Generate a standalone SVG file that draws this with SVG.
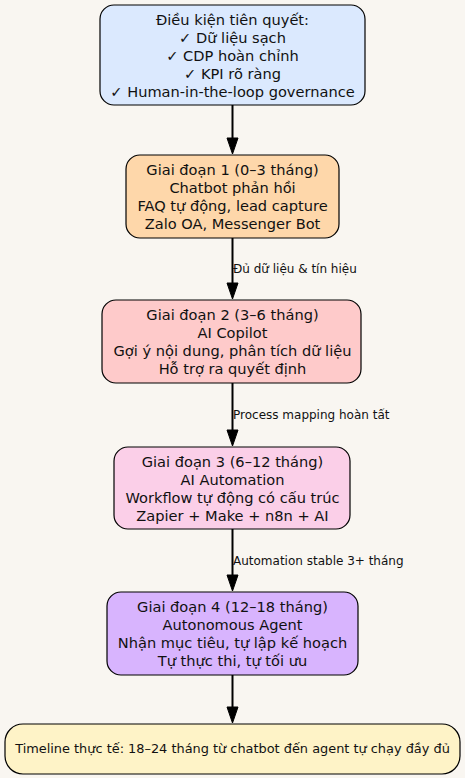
<svg xmlns="http://www.w3.org/2000/svg" width="465" height="778" viewBox="0 0 465 778">
<style>
.n{stroke:#000;stroke-width:1.2}
.t{font-family:"DejaVu Sans",sans-serif;font-size:14.6px;fill:#111;text-anchor:middle}
.l{font-family:"DejaVu Sans",sans-serif;font-size:12px;fill:#111}
.e{stroke:#000;stroke-width:2;fill:none}
.a{fill:#000;stroke:#000;stroke-width:1}
</style>
<rect width="465" height="778" fill="#f9f6f1"/>
<g id="n1"><rect class="n" x="100" y="5" width="265" height="100" rx="14" fill="#dbe9fe"/>
<text class="t"><tspan x="232.5" y="24.5">Điều kiện tiên quyết:</tspan><tspan x="232.5" y="42.5">✓ Dữ liệu sạch</tspan><tspan x="232.5" y="60.5">✓ CDP hoàn chỉnh</tspan><tspan x="232.5" y="78.5">✓ KPI rõ ràng</tspan><tspan x="232.5" y="96.5">✓ Human-in-the-loop governance</tspan></text></g>
<g id="n2"><rect class="n" x="126" y="155" width="213" height="83" rx="14" fill="#fed7aa"/>
<text class="t"><tspan x="232.5" y="175">Giai đoạn 1 (0–3 tháng)</tspan><tspan x="232.5" y="192.5">Chatbot phản hồi</tspan><tspan x="232.5" y="210.5">FAQ tự động, lead capture</tspan><tspan x="232.5" y="228.5">Zalo OA, Messenger Bot</tspan></text></g>
<g id="n3"><rect class="n" x="102" y="300" width="259" height="83" rx="14" fill="#fecaca"/>
<text class="t"><tspan x="232.5" y="320">Giai đoạn 2 (3–6 tháng)</tspan><tspan x="232.5" y="337.5">AI Copilot</tspan><tspan x="232.5" y="355.5">Gợi ý nội dung, phân tích dữ liệu</tspan><tspan x="232.5" y="373.5">Hỗ trợ ra quyết định</tspan></text></g>
<g id="n4"><rect class="n" x="114" y="447" width="236" height="82" rx="14" fill="#fbcfe8"/>
<text class="t"><tspan x="232.5" y="466.5">Giai đoạn 3 (6–12 tháng)</tspan><tspan x="232.5" y="484.5">AI Automation</tspan><tspan x="232.5" y="502.5">Workflow tự động có cấu trúc</tspan><tspan x="232.5" y="520.5">Zapier + Make + n8n + AI</tspan></text></g>
<g id="n5"><rect class="n" x="107" y="592" width="251" height="83" rx="14" fill="#d8b4fe"/>
<text class="t"><tspan x="232.5" y="612">Giai đoạn 4 (12–18 tháng)</tspan><tspan x="232.5" y="629.5">Autonomous Agent</tspan><tspan x="232.5" y="647.5">Nhận mục tiêu, tự lập kế hoạch</tspan><tspan x="232.5" y="665.5">Tự thực thi, tự tối ưu</tspan></text></g>
<g id="n6"><rect class="n" x="5" y="724" width="455" height="50" rx="18" fill="#fef3c7"/>
<text class="t" x="232.5" y="753" style="font-size:12.9px">Timeline thực tế: 18–24 tháng từ chatbot đến agent tự chạy đầy đủ</text></g>
<g id="edges">
<line class="e" x1="232.5" y1="105" x2="232.5" y2="138"/><polygon class="a" points="227,138 238,138 232.5,154"/>
<line class="e" x1="232.5" y1="238" x2="232.5" y2="283"/><polygon class="a" points="227,283 238,283 232.5,299"/>
<text class="l" x="233" y="273">Đủ dữ liệu &amp; tín hiệu</text>
<line class="e" x1="232.5" y1="383" x2="232.5" y2="430"/><polygon class="a" points="227,430 238,430 232.5,446"/>
<text class="l" x="233" y="418.5">Process mapping hoàn tất</text>
<line class="e" x1="232.5" y1="529" x2="232.5" y2="575"/><polygon class="a" points="227,575 238,575 232.5,591"/>
<text class="l" x="233" y="564.5">Automation stable 3+ tháng</text>
<line class="e" x1="232.5" y1="675" x2="232.5" y2="707"/><polygon class="a" points="227,707 238,707 232.5,723"/>
</g>
</svg>
